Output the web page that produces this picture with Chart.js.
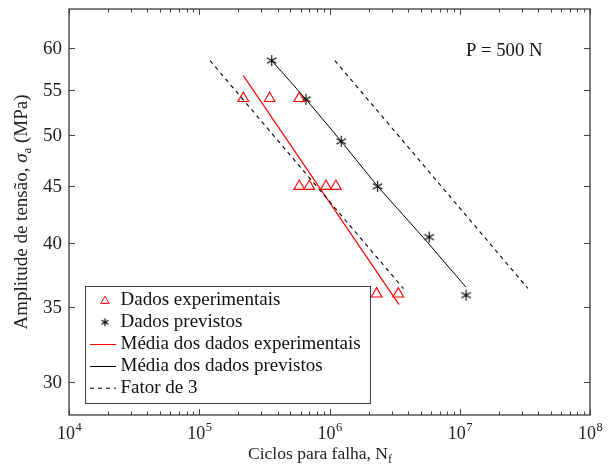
<!DOCTYPE html>
<html>
<head>
<meta charset="utf-8">
<title>Curva S-N, P = 500 N</title>
<script src="https://cdn.jsdelivr.net/npm/chart.js@4.4.0/dist/chart.umd.min.js"></script>
<style>
  html, body { margin: 0; padding: 0; background: #fff; }
</style>
</head>
<body>
<canvas id="sn" width="608" height="473"></canvas>
<script>
// ensaios experimentais (ciclos, tensão em MPa)
const expCycles = [2.18e5, 3.47e5, 5.86e5, 5.86e5, 7.0e5, 9.4e5, 1.12e6, 2.30e6, 3.37e6];
const expStress = [54, 54, 54, 45, 45, 45, 45, 36, 36];

// valores previstos
const predCycles = [3.60e5, 6.60e5, 1.23e6, 2.34e6, 5.82e6, 1.117e7];
const predStress = [58.4, 53.9, 49.4, 45, 40.5, 35.9];

// média dos previstos
const predMeanCycles = [3.60e5, 6.60e5, 1.23e6, 2.34e6, 5.41e6, 1.117e7];
const predMeanStress = [58.4, 53.9, 49.4, 45, 40.3, 36.5];

// média dos experimentais
const expMeanCycles = [2.18e5, 3.42e6];
const expMeanStress = [56.6, 35.2];

// faixa de fator 3
const lowerBandCycles = [1.21e5, 3.69e6];
const upperBandCycles = [1.10e6, 3.34e7];
const bandStress = [58.4, 36.4];

const xDecades = [4, 5, 6, 7, 8];
const yTicks = [30, 35, 40, 45, 50, 55, 60];

const SERIF = '"Liberation Serif", "Times New Roman", serif';
const RED = '#ff0000';

function pts(xs, ys) {
    return xs.map((x, i) => ({ x: x, y: ys[i] }));
}

// asterisco de 6 braços
function asterisk(size) {
    const c = document.createElement('canvas');
    c.width = c.height = size;
    const g = c.getContext('2d');
    const r = size / 2 - 1;
    g.strokeStyle = '#000';
    g.lineWidth = 1.1;
    g.translate(size / 2, size / 2);
    for (let k = 0; k < 3; k++) {
        const a = Math.PI / 2 + k * Math.PI / 3;
        g.beginPath();
        g.moveTo(Math.cos(a) * r, Math.sin(a) * r);
        g.lineTo(-Math.cos(a) * r, -Math.sin(a) * r);
        g.stroke();
    }
    return c;
}
const starMark = asterisk(13);
const starSmall = asterisk(10);

// moldura, marcas de escala, rótulos e textos
const decorations = {
    id: 'decorations',
    afterDatasetsDraw(chart) {
        const ctx = chart.ctx;
        const a = chart.chartArea;
        const xs = chart.scales.x;
        const ys = chart.scales.y;
        ctx.save();

        // marcas para dentro
        ctx.strokeStyle = '#444';
        ctx.lineWidth = 1;
        ctx.beginPath();
        xs.ticks.forEach(t => {
            const px = Math.round(xs.getPixelForValue(t.value)) + 0.5;
            const len = t.major ? 6 : 3.5;
            ctx.moveTo(px, a.bottom); ctx.lineTo(px, a.bottom - len);
            ctx.moveTo(px, a.top); ctx.lineTo(px, a.top + len);
        });
        yTicks.forEach(v => {
            const py = Math.round(ys.getPixelForValue(v)) + 0.5;
            ctx.moveTo(a.left, py); ctx.lineTo(a.left + 6, py);
            ctx.moveTo(a.right, py); ctx.lineTo(a.right - 6, py);
        });
        ctx.stroke();

        ctx.strokeStyle = '#3a3a3a';
        ctx.lineWidth = 1.3;
        ctx.strokeRect(a.left, a.top, a.right - a.left, a.bottom - a.top);

        ctx.fillStyle = '#222';

        // rótulos do eixo y
        ctx.font = '19px ' + SERIF;
        ctx.textAlign = 'right';
        ctx.textBaseline = 'middle';
        yTicks.forEach(v => ctx.fillText(String(v), 62, ys.getPixelForValue(v) + 1));

        // rótulos 10^n
        ctx.textBaseline = 'alphabetic';
        ctx.textAlign = 'left';
        xDecades.forEach(p => {
            const px = xs.getPixelForValue(Math.pow(10, p));
            ctx.font = '18px ' + SERIF;
            const w1 = ctx.measureText('10').width;
            ctx.font = '12.5px ' + SERIF;
            const w2 = ctx.measureText(String(p)).width;
            const x0 = px - (w1 + w2) / 2;
            ctx.font = '18px ' + SERIF;
            ctx.fillText('10', x0, 439);
            ctx.font = '12.5px ' + SERIF;
            ctx.fillText(String(p), x0 + w1 + 0.5, 431);
        });

        // título do eixo x
        ctx.font = '17.5px ' + SERIF;
        const t1 = 'Ciclos para falha, N';
        const wt1 = ctx.measureText(t1).width;
        ctx.font = '12px ' + SERIF;
        const wt2 = ctx.measureText('f').width;
        let x0 = 320 - (wt1 + wt2) / 2;
        ctx.font = '17.5px ' + SERIF;
        ctx.fillText(t1, x0, 459);
        ctx.font = '12px ' + SERIF;
        ctx.fillText('f', x0 + wt1, 463);

        // título do eixo y
        ctx.save();
        ctx.translate(27, (a.top + a.bottom) / 2);
        ctx.rotate(-Math.PI / 2);
        const parts = [
            { s: 'Amplitude de tensão, ', f: '19px ' + SERIF, dy: 0 },
            { s: 'σ', f: 'italic 19px ' + SERIF, dy: 0 },
            { s: 'a', f: '13px ' + SERIF, dy: 4 },
            { s: ' (MPa)', f: '19px ' + SERIF, dy: 0 }
        ];
        let total = 0;
        parts.forEach(q => { ctx.font = q.f; q.w = ctx.measureText(q.s).width; total += q.w; });
        let cx = -total / 2;
        parts.forEach(q => { ctx.font = q.f; ctx.fillText(q.s, cx, q.dy); cx += q.w; });
        ctx.restore();

        // carga
        ctx.fillStyle = '#111';
        ctx.font = '18.7px ' + SERIF;
        ctx.textBaseline = 'middle';
        ctx.fillText('P = 500 N', 466, 51);

        ctx.restore();
    },
    afterDraw(chart) {
        // legenda
        const ctx = chart.ctx;
        ctx.save();
        ctx.fillStyle = '#fff';
        ctx.fillRect(85.5, 286.5, 285, 117);
        ctx.strokeStyle = '#444';
        ctx.lineWidth = 1;
        ctx.strokeRect(85.5, 286.5, 285, 117);

        const rows = [300, 322.3, 344, 366, 387.7];
        const labels = ['Dados experimentais', 'Dados previstos', 'Média dos dados experimentais',
            'Média dos dados previstos', 'Fator de 3'];

        // triângulo
        ctx.strokeStyle = RED;
        ctx.beginPath();
        const r = 4.8, cy = rows[0] + 1;
        ctx.moveTo(105, cy - r);
        ctx.lineTo(105 + r * 0.866, cy + r / 2);
        ctx.lineTo(105 - r * 0.866, cy + r / 2);
        ctx.closePath();
        ctx.stroke();
        ctx.drawImage(starSmall, 100, rows[1] - 5);

        ctx.beginPath();
        ctx.strokeStyle = RED;
        ctx.moveTo(90, rows[2] + 0.5); ctx.lineTo(116, rows[2] + 0.5);
        ctx.stroke();
        ctx.beginPath();
        ctx.strokeStyle = '#000';
        ctx.moveTo(90, rows[3] + 0.5); ctx.lineTo(116, rows[3] + 0.5);
        ctx.stroke();
        ctx.beginPath();
        ctx.setLineDash([4, 4]);
        ctx.moveTo(90, rows[4] + 0.5); ctx.lineTo(116, rows[4] + 0.5);
        ctx.stroke();
        ctx.setLineDash([]);

        ctx.fillStyle = '#111';
        ctx.font = '19px ' + SERIF;
        ctx.textBaseline = 'middle';
        labels.forEach((l, i) => ctx.fillText(l, 120.5, rows[i]));
        ctx.restore();
    }
};

const ctx = document.getElementById('sn').getContext('2d');
const chart = new Chart(ctx, {
    type: 'line',
    data: {
        datasets: [
            {
                label: 'Fator de 3',
                data: pts(lowerBandCycles, bandStress),
                borderColor: '#000', borderWidth: 1.1, borderDash: [4, 4],
                pointRadius: 0
            },
            {
                label: 'Fator de 3 (sup.)',
                data: pts(upperBandCycles, bandStress),
                borderColor: '#000', borderWidth: 1.1, borderDash: [4, 4],
                pointRadius: 0
            },
            {
                label: 'Média dos dados experimentais',
                data: pts(expMeanCycles, expMeanStress),
                borderColor: RED, borderWidth: 1.2,
                pointRadius: 0
            },
            {
                label: 'Média dos dados previstos',
                data: pts(predMeanCycles, predMeanStress),
                borderColor: '#000', borderWidth: 1,
                pointRadius: 0
            },
            {
                label: 'Dados experimentais',
                data: pts(expCycles, expStress),
                showLine: false,
                pointStyle: 'triangle',
                pointRadius: 6.2,
                pointBorderWidth: 1.1,
                pointBorderColor: RED,
                pointBackgroundColor: 'rgba(0,0,0,0)'
            },
            {
                label: 'Dados previstos',
                data: pts(predCycles, predStress),
                showLine: false,
                pointStyle: starMark,
                pointRadius: 6
            }
        ]
    },
    options: {
        responsive: false,
        devicePixelRatio: 1,
        animation: false,
        layout: { padding: { left: 0, right: 18, top: 9, bottom: 0 } },
        plugins: { legend: { display: false }, tooltip: { enabled: false } },
        scales: {
            x: {
                type: 'logarithmic',
                min: 1e4,
                max: 1e8,
                grid: { display: false, drawTicks: false },
                border: { display: false },
                ticks: { display: false },
                afterBuildTicks(s) {
                    const list = [];
                    xDecades.forEach(p => {
                        for (let m = 1; m <= 9; m++) {
                            if (p === 8 && m > 1) break;
                            list.push({ value: m * Math.pow(10, p), major: m === 1 });
                        }
                    });
                    s.ticks = list;
                },
                afterFit(s) { s.height = 58; }
            },
            y: {
                type: 'logarithmic',
                min: 28,
                max: 65,
                grid: { display: false, drawTicks: false },
                border: { display: false },
                ticks: { display: false },
                afterFit(s) { s.width = 69; }
            }
        }
    },
    plugins: [decorations]
});
</script>
</body>
</html>
